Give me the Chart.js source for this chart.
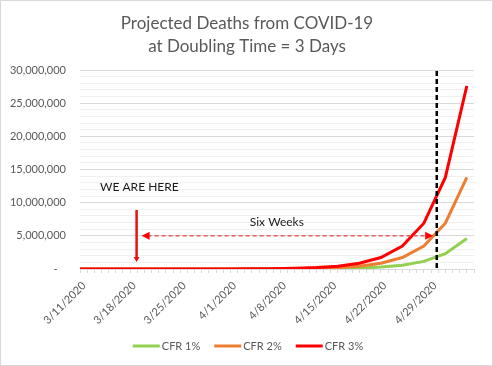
<!DOCTYPE html>
<html>
<head>
<meta charset="utf-8">
<script src="https://cdn.jsdelivr.net/npm/chart.js@4.4.0/dist/chart.umd.min.js"></script>
<style>
html,body{margin:0;padding:0;background:#fff;}
#wrap{width:493px;height:366px;}
</style>
</head>
<body>
<div id="wrap"><canvas id="graficoMuertes" width="493" height="366"></canvas></div>
<script>
// days counted from 3/11/2020, one point every 3 days
const dias = [0, 3, 6, 9, 12, 15, 18, 21, 24, 27, 30, 33, 36, 39, 42, 45, 48, 51, 54];
const cfr1 = [18, 35, 70, 140, 280, 560, 1120, 2250, 4500, 9000, 18000, 36000, 72000, 144000, 288000, 575000, 1150000, 2300000, 4600000];
const cfr2 = [53, 105, 210, 420, 840, 1680, 3370, 6700, 13500, 27000, 54000, 108000, 216000, 431000, 862000, 1725000, 3450000, 6900000, 13800000];
const cfr3 = [105, 210, 420, 840, 1700, 3400, 6700, 13500, 27000, 54000, 108000, 216000, 431000, 862000, 1725000, 3450000, 6900000, 13800000, 27600000];
const nombresSeries = ['CFR 1%', 'CFR 2%', 'CFR 3%'];
const coloresSeries = ['#92d050', '#ed7d31', '#ff0000'];

const etiquetasX = ['3/11/2020', '3/18/2020', '3/25/2020', '4/1/2020', '4/8/2020', '4/15/2020', '4/22/2020', '4/29/2020'];
const diasEtiqueta = [0, 7, 14, 21, 28, 35, 42, 49];
const etiquetasY = ['-   ', '5,000,000', '10,000,000', '15,000,000', '20,000,000', '25,000,000', '30,000,000'];

const tituloLineas = ['Projected Deaths from COVID-19', 'at Doubling Time = 3 Days'];

document.addEventListener('DOMContentLoaded', function(){
    const ctx = document.getElementById('graficoMuertes');
    const fuente = "Lato, 'Open Sans', sans-serif";

    const puntos = serie => dias.map((d, i) => ({ x: d, y: serie[i] }));

    // title, legend, arrows and notes drawn on the canvas
    const decoracion = {
        id: 'decoracion',
        beforeDraw(chart) {
            const c = chart.ctx;
            c.save();
            c.fillStyle = '#ffffff';
            c.fillRect(0, 0, chart.width, chart.height);
            c.strokeStyle = '#d9d9d9';
            c.lineWidth = 1;
            c.strokeRect(0.5, 0.5, chart.width - 1, chart.height - 1);
            c.restore();
        },
        afterDatasetsDraw(chart) {
            const c = chart.ctx;
            const x = chart.scales.x, y = chart.scales.y;
            const area = chart.chartArea;
            c.save();

            // black dashed line at the end of the six weeks
            const xv = x.getPixelForValue(49.8);
            c.strokeStyle = '#000000';
            c.lineWidth = 2.5;
            c.setLineDash([5, 3]);
            c.beginPath();
            c.moveTo(xv, area.top + 1);
            c.lineTo(xv, area.bottom);
            c.stroke();

            // red dashed double arrow
            const ya = y.getPixelForValue(5000000);
            const x1 = x.getPixelForValue(8.6), x2 = x.getPixelForValue(49.3);
            c.strokeStyle = '#e0605a';
            c.lineWidth = 1.5;
            c.setLineDash([4, 3]);
            c.beginPath();
            c.moveTo(x1 + 6, ya);
            c.lineTo(x2 - 6, ya);
            c.stroke();
            c.setLineDash([]);
            c.fillStyle = '#ff0000';
            c.beginPath();
            c.moveTo(x1, ya); c.lineTo(x1 + 8, ya - 4); c.lineTo(x1 + 8, ya + 4); c.closePath(); c.fill();
            c.beginPath();
            c.moveTo(x2, ya); c.lineTo(x2 - 8, ya - 4); c.lineTo(x2 - 8, ya + 4); c.closePath(); c.fill();

            // red "we are here" arrow
            const xh = x.getPixelForValue(7.9);
            const yTop = y.getPixelForValue(8900000), yBot = y.getPixelForValue(1050000);
            c.strokeStyle = '#e81010';
            c.lineWidth = 2.5;
            c.beginPath();
            c.moveTo(xh, yTop);
            c.lineTo(xh, yBot - 3);
            c.stroke();
            c.fillStyle = '#e81010';
            c.beginPath();
            c.moveTo(xh, yBot); c.lineTo(xh - 3, yBot - 5); c.lineTo(xh + 3, yBot - 5); c.closePath(); c.fill();

            // notes
            c.fillStyle = '#1a1a1a';
            c.font = '12px ' + fuente;
            c.textBaseline = 'middle';
            c.textAlign = 'left';
            c.fillText('WE ARE HERE', x.getPixelForValue(2.8), y.getPixelForValue(12400000));
            c.fillText('Six Weeks', x.getPixelForValue(23.7), y.getPixelForValue(7100000));
            c.restore();
        },
        afterDraw(chart) {
            const c = chart.ctx;
            c.save();
            // title
            c.fillStyle = '#595959';
            c.font = '17px ' + fuente;
            c.textAlign = 'center';
            c.textBaseline = 'middle';
            c.fillText(tituloLineas[0], 247, 24);
            c.fillText(tituloLineas[1], 247, 47);

            // legend
            c.font = '11px ' + fuente;
            c.textAlign = 'left';
            const anchos = nombresSeries.map(n => 27 + 2 + c.measureText(n).width);
            const total = anchos.reduce((a, b) => a + b, 0) + 14 * (anchos.length - 1);
            let lx = 248 - total / 2;
            const ly = 346;
            nombresSeries.forEach(function(n, i){
                c.strokeStyle = coloresSeries[i];
                c.lineWidth = 3;
                c.beginPath();
                c.moveTo(lx, ly);
                c.lineTo(lx + 27, ly);
                c.stroke();
                c.fillStyle = '#595959';
                c.fillText(n, lx + 29, ly);
                lx += anchos[i] + 14;
            });
            c.restore();
        }
    };

    new Chart(ctx, {
        type: 'line',
        data: {
            datasets: [
                { label: nombresSeries[0], data: puntos(cfr1), borderColor: coloresSeries[0], borderWidth: 3, pointRadius: 0, tension: 0, order: 2 },
                { label: nombresSeries[1], data: puntos(cfr2), borderColor: coloresSeries[1], borderWidth: 3, pointRadius: 0, tension: 0, order: 1 },
                { label: nombresSeries[2], data: puntos(cfr3), borderColor: coloresSeries[2], borderWidth: 3, pointRadius: 0, tension: 0, order: 0 }
            ]
        },
        options: {
            responsive: false,
            animation: false,
            layout: { padding: { left: 4, right: 19, top: 70, bottom: 35 } },
            plugins: {
                legend: { display: false },
                title: { display: false },
                tooltip: { enabled: false }
            },
            scales: {
                x: {
                    type: 'linear',
                    min: 0,
                    max: 55,
                    afterBuildTicks: function(scale){
                        const t = [];
                        for (let d = 0; d <= 55; d++) t.push({ value: d });
                        scale.ticks = t;
                    },
                    ticks: {
                        autoSkip: false,
                        minRotation: 45,
                        maxRotation: 45,
                        padding: 6,
                        labelOffset: 4,
                        color: '#595959',
                        font: { family: fuente, size: 11 },
                        callback: function(v){
                            const i = diasEtiqueta.indexOf(v);
                            return i >= 0 ? etiquetasX[i] : '';
                        }
                    },
                    grid: { drawOnChartArea: false, drawTicks: true, tickLength: 4, color: '#d9d9d9' },
                    border: { color: '#d9d9d9' },
                    afterFit: function(scale){ scale.height = 62; }
                },
                y: {
                    min: 0,
                    max: 30000000,
                    afterBuildTicks: function(scale){
                        const t = [];
                        for (let v = 0; v <= 30000000; v += 1000000) t.push({ value: v });
                        scale.ticks = t;
                    },
                    ticks: {
                        autoSkip: false,
                        padding: 14,
                        color: '#595959',
                        font: { family: fuente, size: 11 },
                        callback: function(v){
                            if (v % 5000000 !== 0) return '';
                            return etiquetasY[v / 5000000];
                        }
                    },
                    grid: {
                        drawTicks: false,
                        color: function(c){ return c.tick && c.tick.value % 5000000 === 0 ? '#d9d9d9' : '#f0f0f0'; }
                    },
                    border: { display: false },
                    afterFit: function(scale){ scale.width = 76; }
                }
            }
        },
        plugins: [decoracion]
    });
});
</script>
</body>
</html>
